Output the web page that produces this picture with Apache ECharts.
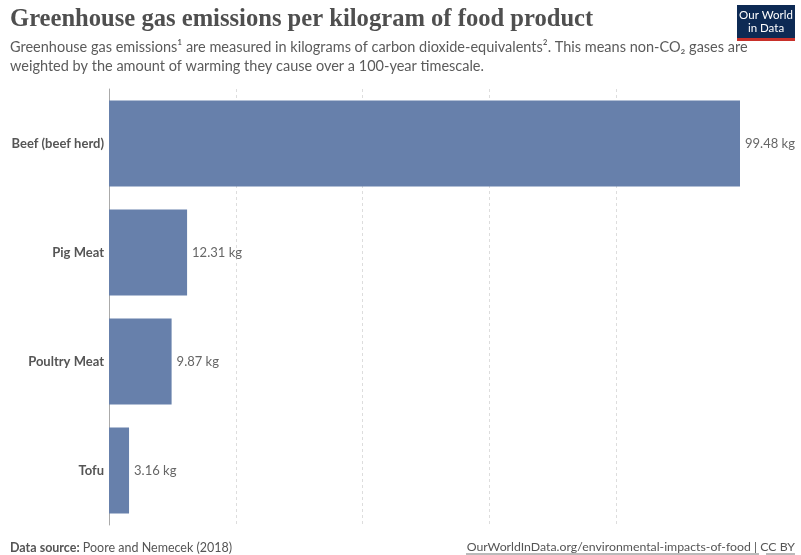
<!DOCTYPE html>
<html><head><meta charset="utf-8">
<script src="https://cdn.jsdelivr.net/npm/echarts@6/dist/echarts.min.js"></script>
<style>html,body{margin:0;padding:0;background:#fff}#c{width:801px;height:555px}</style>
</head><body><div id="c"></div>
<script>
const categories = ['Beef (beef herd)', 'Pig Meat', 'Poultry Meat', 'Tofu'];
const values = [99.48, 12.31, 9.87, 3.16];
const unit = ' kg';

const chart = echarts.init(document.getElementById('c'), null, {renderer: 'canvas'});
const FONT = 'Lato';
chart.setOption({
  animation: false,
  grid: {left: 109, right: 61, top: 89, bottom: 30, containLabel: false},
  xAxis: {
    type: 'value', min: 0, max: 99.48, interval: 20,
    axisLabel: {show: false}, axisTick: {show: false}, axisLine: {show: false},
    splitLine: {show: true, showMaxLine: false, showMinLine: false,
      lineStyle: {color: '#dddddd', type: [3, 3], width: 1}}
  },
  yAxis: {
    type: 'category', data: categories, inverse: true,
    axisTick: {show: false},
    axisLine: {show: true, lineStyle: {color: '#aaaaaa', width: 1}},
    axisLabel: {color: '#555', fontFamily: FONT, fontSize: 13, fontWeight: 'bold', margin: 5}
  },
  series: [{
    type: 'bar', data: values, barCategoryGap: '21%',
    itemStyle: {color: '#6780ab'},
    label: {show: true, position: 'right', distance: 5, color: '#666', fontFamily: FONT, fontSize: 13,
      formatter: p => p.value + unit}
  }],
  graphic: [
    {type: 'text', left: 10, top: 7, style: {text: 'Greenhouse gas emissions per kilogram of food product',
      fontFamily: 'Liberation Serif', fontWeight: 'bold', fontSize: 24.6, fill: '#4f4f4f'}},
    {type: 'text', left: 10, top: 38, style: {
      text: 'Greenhouse gas emissions¹ are measured in kilograms of carbon dioxide-equivalents². This means non-CO₂ gases are\nweighted by the amount of warming they cause over a 100-year timescale.',
      fontFamily: FONT, fontSize: 14.5, lineHeight: 19, fill: '#5b5b5b'}},
    {type: 'rect', shape: {x: 737, y: 5, width: 58, height: 33}, style: {fill: '#0d2a54'}},
    {type: 'rect', shape: {x: 737, y: 38, width: 58, height: 3}, style: {fill: '#c8302a'}},
    {type: 'text', x: 766, y: 22, style: {text: 'Our World\nin Data', fontFamily: FONT, fontSize: 11.5, lineHeight: 13,
      fill: '#fff', align: 'center', verticalAlign: 'middle'}},
    {type: 'text', left: 10, top: 541, style: {
      text: '{b|Data source:} Poore and Nemecek (2018)',
      rich: {b: {fontWeight: 'bold', fontFamily: FONT, fontSize: 12.5, fill: '#555'}},
      fontFamily: FONT, fontSize: 12.5, fill: '#555'}},
    {type: 'text', right: 6, top: 541, style: {
      text: 'OurWorldInData.org/environmental-impacts-of-food | CC BY',
      fontFamily: FONT, fontSize: 12.3, fill: '#555'}},
    {type: 'line', shape: {x1: 466, y1: 554, x2: 759, y2: 554}, style: {stroke: '#777', lineWidth: 1}},
    {type: 'line', shape: {x1: 766, y1: 554, x2: 795, y2: 554}, style: {stroke: '#777', lineWidth: 1}}
  ]
});
</script></body></html>
